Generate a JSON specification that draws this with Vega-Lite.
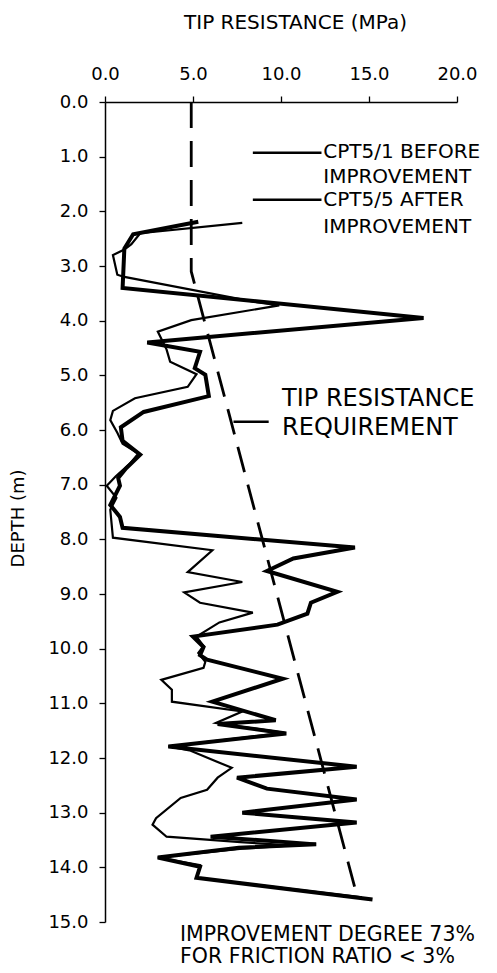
{
  "$schema": "https://vega.github.io/schema/vega-lite/v6.json",
  "width": 352,
  "height": 820,
  "autosize": "none",
  "padding": {"left": 105, "top": 102, "right": 40, "bottom": 51},
  "background": "white",
  "config": {"view": {"stroke": null}, "font": "DejaVu Sans"},
  "datasets": {
    "cpt": [
      {"s": "before", "i": 1, "tip": 7.8, "depth": 2.21},
      {"s": "before", "i": 2, "tip": 2.0, "depth": 2.40},
      {"s": "before", "i": 3, "tip": 1.5, "depth": 2.60},
      {"s": "before", "i": 4, "tip": 1.1, "depth": 2.70},
      {"s": "before", "i": 5, "tip": 0.45, "depth": 2.80},
      {"s": "before", "i": 6, "tip": 0.7, "depth": 3.16},
      {"s": "before", "i": 7, "tip": 1.1, "depth": 3.20},
      {"s": "before", "i": 8, "tip": 8.6, "depth": 3.66},
      {"s": "before", "i": 9, "tip": 9.9, "depth": 3.72},
      {"s": "before", "i": 10, "tip": 4.9, "depth": 3.99},
      {"s": "before", "i": 11, "tip": 3.0, "depth": 4.20},
      {"s": "before", "i": 12, "tip": 3.5, "depth": 4.53},
      {"s": "before", "i": 13, "tip": 3.7, "depth": 4.75},
      {"s": "before", "i": 14, "tip": 5.2, "depth": 4.98},
      {"s": "before", "i": 15, "tip": 4.7, "depth": 5.21},
      {"s": "before", "i": 16, "tip": 1.7, "depth": 5.42},
      {"s": "before", "i": 17, "tip": 0.45, "depth": 5.65},
      {"s": "before", "i": 18, "tip": 0.3, "depth": 5.82},
      {"s": "before", "i": 19, "tip": 0.7, "depth": 6.05},
      {"s": "before", "i": 20, "tip": 1.0, "depth": 6.25},
      {"s": "before", "i": 21, "tip": 1.9, "depth": 6.43},
      {"s": "before", "i": 22, "tip": 1.4, "depth": 6.62},
      {"s": "before", "i": 23, "tip": 0.6, "depth": 6.85},
      {"s": "before", "i": 24, "tip": 0.1, "depth": 7.02},
      {"s": "before", "i": 25, "tip": 0.65, "depth": 7.24},
      {"s": "before", "i": 26, "tip": 0.3, "depth": 7.46},
      {"s": "before", "i": 27, "tip": 0.45, "depth": 7.97},
      {"s": "before", "i": 28, "tip": 6.1, "depth": 8.20},
      {"s": "before", "i": 29, "tip": 4.7, "depth": 8.60},
      {"s": "before", "i": 30, "tip": 7.8, "depth": 8.78},
      {"s": "before", "i": 31, "tip": 4.5, "depth": 8.97},
      {"s": "before", "i": 32, "tip": 5.4, "depth": 9.16},
      {"s": "before", "i": 33, "tip": 8.4, "depth": 9.34},
      {"s": "before", "i": 34, "tip": 6.5, "depth": 9.52},
      {"s": "before", "i": 35, "tip": 5.2, "depth": 9.78},
      {"s": "before", "i": 36, "tip": 5.6, "depth": 9.95},
      {"s": "before", "i": 37, "tip": 5.3, "depth": 10.08},
      {"s": "before", "i": 38, "tip": 5.7, "depth": 10.24},
      {"s": "before", "i": 39, "tip": 5.6, "depth": 10.35},
      {"s": "before", "i": 40, "tip": 3.2, "depth": 10.57},
      {"s": "before", "i": 41, "tip": 3.8, "depth": 10.75},
      {"s": "before", "i": 42, "tip": 3.8, "depth": 10.97},
      {"s": "before", "i": 43, "tip": 7.8, "depth": 11.15},
      {"s": "before", "i": 44, "tip": 6.3, "depth": 11.36},
      {"s": "before", "i": 45, "tip": 10.2, "depth": 11.54},
      {"s": "before", "i": 46, "tip": 3.6, "depth": 11.79},
      {"s": "before", "i": 47, "tip": 4.8, "depth": 11.86},
      {"s": "before", "i": 48, "tip": 7.2, "depth": 12.18},
      {"s": "before", "i": 49, "tip": 6.4, "depth": 12.36},
      {"s": "before", "i": 50, "tip": 5.8, "depth": 12.58},
      {"s": "before", "i": 51, "tip": 4.3, "depth": 12.73},
      {"s": "before", "i": 52, "tip": 2.9, "depth": 13.10},
      {"s": "before", "i": 53, "tip": 2.7, "depth": 13.22},
      {"s": "before", "i": 54, "tip": 3.5, "depth": 13.44},
      {"s": "before", "i": 55, "tip": 7.7, "depth": 13.54},
      {"s": "before", "i": 56, "tip": 10.6, "depth": 13.60},
      {"s": "before", "i": 57, "tip": 7.8, "depth": 13.66},
      {"s": "before", "i": 58, "tip": 3.0, "depth": 13.82},
      {"s": "before", "i": 59, "tip": 5.4, "depth": 13.96},
      {"s": "before", "i": 60, "tip": 5.2, "depth": 14.19},
      {"s": "before", "i": 61, "tip": 14.6, "depth": 14.55},
      {"s": "after", "i": 1, "tip": 5.3, "depth": 2.19},
      {"s": "after", "i": 2, "tip": 1.6, "depth": 2.42},
      {"s": "after", "i": 3, "tip": 1.1, "depth": 2.68},
      {"s": "after", "i": 4, "tip": 1.0, "depth": 3.40},
      {"s": "after", "i": 5, "tip": 18.1, "depth": 3.95},
      {"s": "after", "i": 6, "tip": 2.4, "depth": 4.40},
      {"s": "after", "i": 7, "tip": 5.4, "depth": 4.57},
      {"s": "after", "i": 8, "tip": 5.1, "depth": 4.87},
      {"s": "after", "i": 9, "tip": 5.7, "depth": 4.99},
      {"s": "after", "i": 10, "tip": 5.9, "depth": 5.38},
      {"s": "after", "i": 11, "tip": 2.2, "depth": 5.67},
      {"s": "after", "i": 12, "tip": 0.9, "depth": 5.95},
      {"s": "after", "i": 13, "tip": 1.0, "depth": 6.20},
      {"s": "after", "i": 14, "tip": 2.0, "depth": 6.45},
      {"s": "after", "i": 15, "tip": 1.2, "depth": 6.70},
      {"s": "after", "i": 16, "tip": 0.75, "depth": 6.88},
      {"s": "after", "i": 17, "tip": 0.85, "depth": 7.02},
      {"s": "after", "i": 18, "tip": 0.3, "depth": 7.37},
      {"s": "after", "i": 19, "tip": 0.85, "depth": 7.59},
      {"s": "after", "i": 20, "tip": 1.0, "depth": 7.79},
      {"s": "after", "i": 21, "tip": 14.2, "depth": 8.15},
      {"s": "after", "i": 22, "tip": 10.7, "depth": 8.35},
      {"s": "after", "i": 23, "tip": 9.2, "depth": 8.58},
      {"s": "after", "i": 24, "tip": 13.2, "depth": 8.96},
      {"s": "after", "i": 25, "tip": 11.7, "depth": 9.16},
      {"s": "after", "i": 26, "tip": 11.5, "depth": 9.36},
      {"s": "after", "i": 27, "tip": 9.8, "depth": 9.56},
      {"s": "after", "i": 28, "tip": 5.0, "depth": 9.78},
      {"s": "after", "i": 29, "tip": 5.6, "depth": 9.97},
      {"s": "after", "i": 30, "tip": 5.4, "depth": 10.12},
      {"s": "after", "i": 31, "tip": 5.8, "depth": 10.20},
      {"s": "after", "i": 32, "tip": 10.1, "depth": 10.55},
      {"s": "after", "i": 33, "tip": 6.1, "depth": 10.97},
      {"s": "after", "i": 34, "tip": 9.7, "depth": 11.31},
      {"s": "after", "i": 35, "tip": 6.4, "depth": 11.38},
      {"s": "after", "i": 36, "tip": 10.3, "depth": 11.55},
      {"s": "after", "i": 37, "tip": 3.6, "depth": 11.79},
      {"s": "after", "i": 38, "tip": 14.3, "depth": 12.16},
      {"s": "after", "i": 39, "tip": 7.5, "depth": 12.36},
      {"s": "after", "i": 40, "tip": 9.2, "depth": 12.56},
      {"s": "after", "i": 41, "tip": 14.3, "depth": 12.76},
      {"s": "after", "i": 42, "tip": 7.8, "depth": 13.00},
      {"s": "after", "i": 43, "tip": 14.3, "depth": 13.18},
      {"s": "after", "i": 44, "tip": 6.0, "depth": 13.44},
      {"s": "after", "i": 45, "tip": 12.0, "depth": 13.58},
      {"s": "after", "i": 46, "tip": 7.6, "depth": 13.64},
      {"s": "after", "i": 47, "tip": 3.0, "depth": 13.82},
      {"s": "after", "i": 48, "tip": 5.4, "depth": 13.99},
      {"s": "after", "i": 49, "tip": 5.2, "depth": 14.19},
      {"s": "after", "i": 50, "tip": 15.2, "depth": 14.59}
    ],
    "requirement": [
      {"i": 1, "tip": 4.9, "depth": 0},
      {"i": 2, "tip": 4.9, "depth": 3.1},
      {"i": 3, "tip": 14.3, "depth": 14.5}
    ],
    "keys": [
      {"s": "before", "i": 1, "tip": 8.4, "depth": 0.93},
      {"s": "before", "i": 2, "tip": 12.3, "depth": 0.93},
      {"s": "after", "i": 1, "tip": 8.4, "depth": 1.79},
      {"s": "after", "i": 2, "tip": 12.3, "depth": 1.79},
      {"s": "leader", "i": 1, "tip": 7.3, "depth": 5.85},
      {"s": "leader", "i": 2, "tip": 9.3, "depth": 5.85}
    ],
    "notes": [
      {"g": "legend", "tip": 12.4, "depth": 0.914, "text": "CPT5/1 BEFORE"},
      {"g": "legend", "tip": 12.4, "depth": 1.38, "text": "IMPROVEMENT"},
      {"g": "legend", "tip": 12.4, "depth": 1.80, "text": "CPT5/5 AFTER"},
      {"g": "legend", "tip": 12.4, "depth": 2.28, "text": "IMPROVEMENT"},
      {"g": "req", "tip": 10.06, "depth": 5.44, "text": "TIP RESISTANCE"},
      {"g": "req", "tip": 10.06, "depth": 5.97, "text": "REQUIREMENT"},
      {"g": "foot", "tip": 4.26, "depth": 15.24, "text": "IMPROVEMENT DEGREE 73%"},
      {"g": "foot", "tip": 4.26, "depth": 15.64, "text": "FOR FRICTION RATIO < 3%"}
    ]
  },
  "layer": [
    {
      "data": {"name": "requirement"},
      "mark": {"type": "line", "color": "black", "strokeWidth": 2.8, "strokeDash": [26, 13]},
      "encoding": {
        "x": {
          "field": "tip", "type": "quantitative",
          "scale": {"domain": [0, 20], "nice": false, "zero": false},
          "axis": {
            "orient": "top",
            "values": [0, 5, 10, 15, 20],
            "format": ".1f",
            "labelOverlap": false,
            "labelFlush": false,
            "labelFont": "DejaVu Sans",
            "labelFontSize": 18,
            "labelColor": "black",
            "labelPadding": 13,
            "tickSize": 6,
            "tickColor": "black",
            "tickWidth": 1.3,
            "domainColor": "black",
            "domainWidth": 1.5,
            "grid": false,
            "title": "TIP RESISTANCE (MPa)",
            "titleFont": "DejaVu Sans",
            "titleFontSize": 20,
            "titleFontWeight": "normal",
            "titleColor": "black",
            "titleX": 190,
            "titleY": -80,
            "titleAlign": "center",
            "titleBaseline": "middle",
            "encode": {
              "ticks": {
                "update": {
                  "y": {"value": 5},
                  "y2": {"value": -6}
                }
              }
            }
          }
        },
        "y": {
          "field": "depth", "type": "quantitative",
          "scale": {"domain": [0, 15], "reverse": true, "nice": false, "zero": false},
          "axis": {
            "orient": "left",
            "values": [0, 1, 2, 3, 4, 5, 6, 7, 8, 9, 10, 11, 12, 13, 14, 15],
            "format": ".1f",
            "labelFont": "DejaVu Sans",
            "labelFontSize": 18,
            "labelColor": "black",
            "labelPadding": 11,
            "labelOverlap": false,
            "labelFlush": false,
            "tickSize": 6,
            "tickColor": "black",
            "tickWidth": 1.3,
            "domainColor": "black",
            "domainWidth": 1.5,
            "grid": false,
            "title": "DEPTH (m)",
            "titleFont": "DejaVu Sans",
            "titleFontSize": 18,
            "titleFontWeight": "normal",
            "titleColor": "black",
            "titleAngle": 270,
            "titleX": -87,
            "titleY": 416,
            "titleAlign": "center",
            "titleBaseline": "middle",
            "encode": {
              "ticks": {
                "update": {
                  "x": {"value": 6},
                  "x2": {"value": -6}
                }
              }
            }
          }
        },
        "order": {"field": "i", "type": "quantitative"}
      }
    },
    {
      "data": {"name": "cpt"},
      "transform": [{"filter": "datum.s === 'before'"}],
      "mark": {"type": "line", "color": "black", "strokeWidth": 2.2},
      "encoding": {
        "x": {"field": "tip", "type": "quantitative"},
        "y": {"field": "depth", "type": "quantitative"},
        "order": {"field": "i", "type": "quantitative"}
      }
    },
    {
      "data": {"name": "cpt"},
      "transform": [{"filter": "datum.s === 'after'"}],
      "mark": {"type": "line", "color": "black", "strokeWidth": 4},
      "encoding": {
        "x": {"field": "tip", "type": "quantitative"},
        "y": {"field": "depth", "type": "quantitative"},
        "order": {"field": "i", "type": "quantitative"}
      }
    },
    {
      "data": {"name": "keys"},
      "mark": {"type": "line", "color": "black", "strokeWidth": 2.5},
      "encoding": {
        "x": {"field": "tip", "type": "quantitative"},
        "y": {"field": "depth", "type": "quantitative"},
        "detail": {"field": "s"},
        "order": {"field": "i", "type": "quantitative"}
      }
    },
    {
      "data": {"name": "notes"},
      "transform": [{"filter": "datum.g === 'legend'"}],
      "mark": {"type": "text", "align": "left", "baseline": "middle", "font": "DejaVu Sans", "fontSize": 20, "color": "black"},
      "encoding": {
        "x": {"field": "tip", "type": "quantitative"},
        "y": {"field": "depth", "type": "quantitative"},
        "text": {"field": "text"}
      }
    },
    {
      "data": {"name": "notes"},
      "transform": [{"filter": "datum.g === 'req'"}],
      "mark": {"type": "text", "align": "left", "baseline": "middle", "font": "DejaVu Sans", "fontSize": 24, "color": "black"},
      "encoding": {
        "x": {"field": "tip", "type": "quantitative"},
        "y": {"field": "depth", "type": "quantitative"},
        "text": {"field": "text"}
      }
    },
    {
      "data": {"name": "notes"},
      "transform": [{"filter": "datum.g === 'foot'"}],
      "mark": {"type": "text", "align": "left", "baseline": "middle", "font": "DejaVu Sans", "fontSize": 20.5, "color": "black"},
      "encoding": {
        "x": {"field": "tip", "type": "quantitative"},
        "y": {"field": "depth", "type": "quantitative"},
        "text": {"field": "text"}
      }
    }
  ]
}
